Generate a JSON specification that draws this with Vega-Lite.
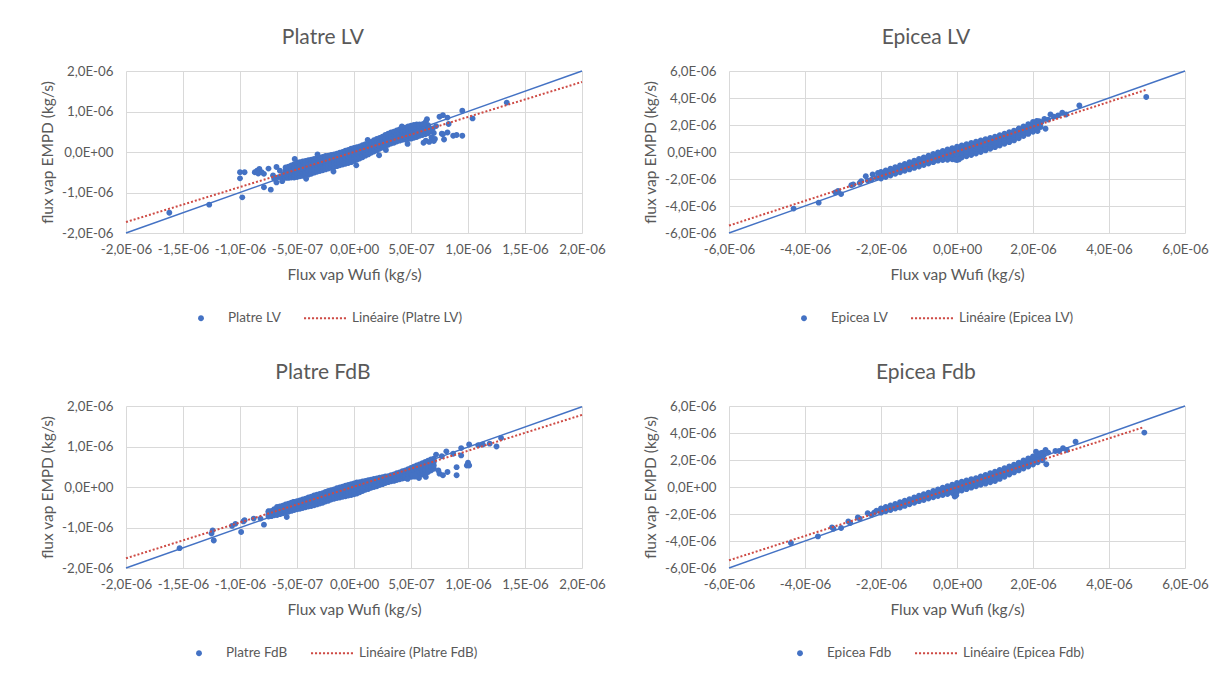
{
  "$schema": "https://vega.github.io/schema/vega-lite/v6.json",
  "background": "white",
  "padding": {"left": 40, "top": 27, "right": 5, "bottom": 5},
  "bounds": "flush",
  "columns": 2,
  "spacing": {"row": 173, "column": 147},
  "resolve": {"scale": {"color": "independent", "shape": "independent"}},
  "datasets": {
    "platreLV": [
      {"wufi":-1.62e-6,"empd":-1.5e-6},{"wufi":-1.27e-6,"empd":-1.3e-6},{"wufi":-1e-6,"empd":-0.65e-6},{"wufi":-1e-6,"empd":-0.5e-6},
      {"wufi":-0.96e-6,"empd":-0.5e-6},{"wufi":-0.98e-6,"empd":-1.12e-6},{"wufi":-0.87e-6,"empd":-0.5e-6},{"wufi":-0.85e-6,"empd":-0.46e-6},
      {"wufi":-0.83e-6,"empd":-0.42e-6},{"wufi":-0.81e-6,"empd":-0.5e-6},{"wufi":-0.79e-6,"empd":-0.54e-6},{"wufi":-0.84e-6,"empd":-0.53e-6},
      {"wufi":-0.75e-6,"empd":-0.41e-6},{"wufi":-0.71e-6,"empd":-0.58e-6},{"wufi":-0.79e-6,"empd":-0.87e-6},{"wufi":-0.73e-6,"empd":-0.93e-6},
      {"wufi":-0.68e-6,"empd":-0.37e-6},{"wufi":-0.65e-6,"empd":-0.46e-6},{"wufi":-0.68e-6,"empd":-0.75e-6},{"wufi":-0.63e-6,"empd":-0.66e-6},
      {"wufi":-0.66e-6,"empd":-0.62e-6},{"wufi":-0.7e-6,"empd":-0.66e-6},{"wufi":-0.62e-6,"empd":-0.55e-6},{"wufi":-0.63e-6,"empd":-0.72e-6},
      {"wufi":-0.6e-6,"empd":-0.64e-6},{"wufi":-0.6e-6,"empd":-0.58e-6},{"wufi":-0.6e-6,"empd":-0.51e-6},{"wufi":-0.6e-6,"empd":-0.45e-6},{"wufi":-0.6e-6,"empd":-0.38e-6},
      {"wufi":-0.575e-6,"empd":-0.64e-6},{"wufi":-0.575e-6,"empd":-0.57e-6},{"wufi":-0.575e-6,"empd":-0.5e-6},{"wufi":-0.575e-6,"empd":-0.43e-6},{"wufi":-0.575e-6,"empd":-0.36e-6},
      {"wufi":-0.55e-6,"empd":-0.63e-6},{"wufi":-0.55e-6,"empd":-0.56e-6},{"wufi":-0.55e-6,"empd":-0.48e-6},{"wufi":-0.55e-6,"empd":-0.41e-6},{"wufi":-0.55e-6,"empd":-0.33e-6},
      {"wufi":-0.525e-6,"empd":-0.63e-6},{"wufi":-0.525e-6,"empd":-0.55e-6},{"wufi":-0.525e-6,"empd":-0.46e-6},{"wufi":-0.525e-6,"empd":-0.38e-6},{"wufi":-0.525e-6,"empd":-0.3e-6},
      {"wufi":-0.5e-6,"empd":-0.62e-6},{"wufi":-0.5e-6,"empd":-0.53e-6},{"wufi":-0.5e-6,"empd":-0.44e-6},{"wufi":-0.5e-6,"empd":-0.35e-6},{"wufi":-0.5e-6,"empd":-0.26e-6},
      {"wufi":-0.475e-6,"empd":-0.6e-6},{"wufi":-0.475e-6,"empd":-0.52e-6},{"wufi":-0.475e-6,"empd":-0.43e-6},{"wufi":-0.475e-6,"empd":-0.34e-6},{"wufi":-0.475e-6,"empd":-0.25e-6},
      {"wufi":-0.45e-6,"empd":-0.59e-6},{"wufi":-0.45e-6,"empd":-0.5e-6},{"wufi":-0.45e-6,"empd":-0.41e-6},{"wufi":-0.45e-6,"empd":-0.32e-6},{"wufi":-0.45e-6,"empd":-0.23e-6},
      {"wufi":-0.425e-6,"empd":-0.58e-6},{"wufi":-0.425e-6,"empd":-0.49e-6},{"wufi":-0.425e-6,"empd":-0.4e-6},{"wufi":-0.425e-6,"empd":-0.31e-6},{"wufi":-0.425e-6,"empd":-0.22e-6},
      {"wufi":-0.4e-6,"empd":-0.56e-6},{"wufi":-0.4e-6,"empd":-0.47e-6},{"wufi":-0.4e-6,"empd":-0.38e-6},{"wufi":-0.4e-6,"empd":-0.29e-6},{"wufi":-0.4e-6,"empd":-0.2e-6},
      {"wufi":-0.375e-6,"empd":-0.54e-6},{"wufi":-0.375e-6,"empd":-0.45e-6},{"wufi":-0.375e-6,"empd":-0.36e-6},{"wufi":-0.375e-6,"empd":-0.28e-6},{"wufi":-0.375e-6,"empd":-0.19e-6},
      {"wufi":-0.35e-6,"empd":-0.51e-6},{"wufi":-0.35e-6,"empd":-0.43e-6},{"wufi":-0.35e-6,"empd":-0.34e-6},{"wufi":-0.35e-6,"empd":-0.26e-6},{"wufi":-0.35e-6,"empd":-0.17e-6},
      {"wufi":-0.325e-6,"empd":-0.49e-6},{"wufi":-0.325e-6,"empd":-0.41e-6},{"wufi":-0.325e-6,"empd":-0.33e-6},{"wufi":-0.325e-6,"empd":-0.24e-6},{"wufi":-0.325e-6,"empd":-0.16e-6},
      {"wufi":-0.3e-6,"empd":-0.47e-6},{"wufi":-0.3e-6,"empd":-0.39e-6},{"wufi":-0.3e-6,"empd":-0.31e-6},{"wufi":-0.3e-6,"empd":-0.22e-6},{"wufi":-0.3e-6,"empd":-0.14e-6},
      {"wufi":-0.275e-6,"empd":-0.45e-6},{"wufi":-0.275e-6,"empd":-0.37e-6},{"wufi":-0.275e-6,"empd":-0.29e-6},{"wufi":-0.275e-6,"empd":-0.2e-6},{"wufi":-0.275e-6,"empd":-0.12e-6},
      {"wufi":-0.25e-6,"empd":-0.43e-6},{"wufi":-0.25e-6,"empd":-0.35e-6},{"wufi":-0.25e-6,"empd":-0.27e-6},{"wufi":-0.25e-6,"empd":-0.18e-6},{"wufi":-0.25e-6,"empd":-0.1e-6},
      {"wufi":-0.225e-6,"empd":-0.41e-6},{"wufi":-0.225e-6,"empd":-0.33e-6},{"wufi":-0.225e-6,"empd":-0.25e-6},{"wufi":-0.225e-6,"empd":-0.17e-6},{"wufi":-0.225e-6,"empd":-0.09e-6},
      {"wufi":-0.2e-6,"empd":-0.39e-6},{"wufi":-0.2e-6,"empd":-0.31e-6},{"wufi":-0.2e-6,"empd":-0.23e-6},{"wufi":-0.2e-6,"empd":-0.15e-6},{"wufi":-0.2e-6,"empd":-0.07e-6},
      {"wufi":-0.175e-6,"empd":-0.37e-6},{"wufi":-0.175e-6,"empd":-0.29e-6},{"wufi":-0.175e-6,"empd":-0.22e-6},{"wufi":-0.175e-6,"empd":-0.14e-6},{"wufi":-0.175e-6,"empd":-0.06e-6},
      {"wufi":-0.15e-6,"empd":-0.35e-6},{"wufi":-0.15e-6,"empd":-0.27e-6},{"wufi":-0.15e-6,"empd":-0.2e-6},{"wufi":-0.15e-6,"empd":-0.12e-6},{"wufi":-0.15e-6,"empd":-0.04e-6},
      {"wufi":-0.125e-6,"empd":-0.33e-6},{"wufi":-0.125e-6,"empd":-0.25e-6},{"wufi":-0.125e-6,"empd":-0.18e-6},{"wufi":-0.125e-6,"empd":-0.1e-6},{"wufi":-0.125e-6,"empd":-0.02e-6},
      {"wufi":-0.1e-6,"empd":-0.31e-6},{"wufi":-0.1e-6,"empd":-0.23e-6},{"wufi":-0.1e-6,"empd":-0.16e-6},{"wufi":-0.1e-6,"empd":-0.08e-6},{"wufi":-0.1e-6,"empd":0},
      {"wufi":-0.075e-6,"empd":-0.29e-6},{"wufi":-0.075e-6,"empd":-0.21e-6},{"wufi":-0.075e-6,"empd":-0.14e-6},{"wufi":-0.075e-6,"empd":-0.06e-6},{"wufi":-0.075e-6,"empd":0.03e-6},
      {"wufi":-0.05e-6,"empd":-0.27e-6},{"wufi":-0.05e-6,"empd":-0.19e-6},{"wufi":-0.05e-6,"empd":-0.11e-6},{"wufi":-0.05e-6,"empd":-0.03e-6},{"wufi":-0.05e-6,"empd":0.05e-6},
      {"wufi":-0.025e-6,"empd":-0.25e-6},{"wufi":-0.025e-6,"empd":-0.17e-6},{"wufi":-0.025e-6,"empd":-0.09e-6},{"wufi":-0.025e-6,"empd":-0.01e-6},{"wufi":-0.025e-6,"empd":0.08e-6},
      {"wufi":0,"empd":-0.22e-6},{"wufi":0,"empd":-0.14e-6},{"wufi":0,"empd":-0.06e-6},{"wufi":0,"empd":0.02e-6},{"wufi":0,"empd":0.1e-6},
      {"wufi":0.025e-6,"empd":-0.19e-6},{"wufi":0.025e-6,"empd":-0.12e-6},{"wufi":0.025e-6,"empd":-0.04e-6},{"wufi":0.025e-6,"empd":0.05e-6},{"wufi":0.025e-6,"empd":0.12e-6},
      {"wufi":0.05e-6,"empd":-0.16e-6},{"wufi":0.05e-6,"empd":-0.09e-6},{"wufi":0.05e-6,"empd":-0.01e-6},{"wufi":0.05e-6,"empd":0.07e-6},{"wufi":0.05e-6,"empd":0.14e-6},
      {"wufi":0.075e-6,"empd":-0.13e-6},{"wufi":0.075e-6,"empd":-0.06e-6},{"wufi":0.075e-6,"empd":0.02e-6},{"wufi":0.075e-6,"empd":0.1e-6},{"wufi":0.075e-6,"empd":0.17e-6},
      {"wufi":0.1e-6,"empd":-0.09e-6},{"wufi":0.1e-6,"empd":-0.02e-6},{"wufi":0.1e-6,"empd":0.05e-6},{"wufi":0.1e-6,"empd":0.12e-6},{"wufi":0.1e-6,"empd":0.19e-6},
      {"wufi":0.125e-6,"empd":-0.06e-6},{"wufi":0.125e-6,"empd":0.02e-6},{"wufi":0.125e-6,"empd":0.09e-6},{"wufi":0.125e-6,"empd":0.15e-6},{"wufi":0.125e-6,"empd":0.22e-6},
      {"wufi":0.15e-6,"empd":-0.02e-6},{"wufi":0.15e-6,"empd":0.05e-6},{"wufi":0.15e-6,"empd":0.12e-6},{"wufi":0.15e-6,"empd":0.18e-6},{"wufi":0.15e-6,"empd":0.25e-6},
      {"wufi":0.175e-6,"empd":0.01e-6},{"wufi":0.175e-6,"empd":0.08e-6},{"wufi":0.175e-6,"empd":0.15e-6},{"wufi":0.175e-6,"empd":0.22e-6},{"wufi":0.175e-6,"empd":0.29e-6},
      {"wufi":0.2e-6,"empd":0.04e-6},{"wufi":0.2e-6,"empd":0.11e-6},{"wufi":0.2e-6,"empd":0.18e-6},{"wufi":0.2e-6,"empd":0.25e-6},{"wufi":0.2e-6,"empd":0.32e-6},
      {"wufi":0.225e-6,"empd":0.08e-6},{"wufi":0.225e-6,"empd":0.15e-6},{"wufi":0.225e-6,"empd":0.22e-6},{"wufi":0.225e-6,"empd":0.28e-6},{"wufi":0.225e-6,"empd":0.35e-6},
      {"wufi":0.25e-6,"empd":0.11e-6},{"wufi":0.25e-6,"empd":0.18e-6},{"wufi":0.25e-6,"empd":0.25e-6},{"wufi":0.25e-6,"empd":0.31e-6},{"wufi":0.25e-6,"empd":0.38e-6},
      {"wufi":0.275e-6,"empd":0.15e-6},{"wufi":0.275e-6,"empd":0.22e-6},{"wufi":0.275e-6,"empd":0.29e-6},{"wufi":0.275e-6,"empd":0.35e-6},{"wufi":0.275e-6,"empd":0.42e-6},
      {"wufi":0.3e-6,"empd":0.18e-6},{"wufi":0.3e-6,"empd":0.25e-6},{"wufi":0.3e-6,"empd":0.32e-6},{"wufi":0.3e-6,"empd":0.38e-6},{"wufi":0.3e-6,"empd":0.45e-6},
      {"wufi":0.325e-6,"empd":0.21e-6},{"wufi":0.325e-6,"empd":0.28e-6},{"wufi":0.325e-6,"empd":0.35e-6},{"wufi":0.325e-6,"empd":0.41e-6},{"wufi":0.325e-6,"empd":0.48e-6},
      {"wufi":0.35e-6,"empd":0.23e-6},{"wufi":0.35e-6,"empd":0.3e-6},{"wufi":0.35e-6,"empd":0.37e-6},{"wufi":0.35e-6,"empd":0.43e-6},{"wufi":0.35e-6,"empd":0.5e-6},
      {"wufi":0.375e-6,"empd":0.26e-6},{"wufi":0.375e-6,"empd":0.33e-6},{"wufi":0.375e-6,"empd":0.4e-6},{"wufi":0.375e-6,"empd":0.46e-6},{"wufi":0.375e-6,"empd":0.53e-6},
      {"wufi":0.4e-6,"empd":0.28e-6},{"wufi":0.4e-6,"empd":0.35e-6},{"wufi":0.4e-6,"empd":0.42e-6},{"wufi":0.4e-6,"empd":0.49e-6},{"wufi":0.4e-6,"empd":0.56e-6},
      {"wufi":0.425e-6,"empd":0.3e-6},{"wufi":0.425e-6,"empd":0.37e-6},{"wufi":0.425e-6,"empd":0.44e-6},{"wufi":0.425e-6,"empd":0.51e-6},{"wufi":0.425e-6,"empd":0.58e-6},
      {"wufi":0.45e-6,"empd":0.31e-6},{"wufi":0.45e-6,"empd":0.38e-6},{"wufi":0.45e-6,"empd":0.46e-6},{"wufi":0.45e-6,"empd":0.53e-6},{"wufi":0.45e-6,"empd":0.6e-6},
      {"wufi":0.475e-6,"empd":0.32e-6},{"wufi":0.475e-6,"empd":0.4e-6},{"wufi":0.475e-6,"empd":0.48e-6},{"wufi":0.475e-6,"empd":0.55e-6},{"wufi":0.475e-6,"empd":0.63e-6},
      {"wufi":0.5e-6,"empd":0.33e-6},{"wufi":0.5e-6,"empd":0.41e-6},{"wufi":0.5e-6,"empd":0.49e-6},{"wufi":0.5e-6,"empd":0.57e-6},{"wufi":0.5e-6,"empd":0.65e-6},
      {"wufi":0.525e-6,"empd":0.35e-6},{"wufi":0.525e-6,"empd":0.43e-6},{"wufi":0.525e-6,"empd":0.51e-6},{"wufi":0.525e-6,"empd":0.59e-6},{"wufi":0.525e-6,"empd":0.67e-6},
      {"wufi":0.55e-6,"empd":0.37e-6},{"wufi":0.55e-6,"empd":0.45e-6},{"wufi":0.55e-6,"empd":0.53e-6},{"wufi":0.55e-6,"empd":0.6e-6},{"wufi":0.55e-6,"empd":0.68e-6},
      {"wufi":0.575e-6,"empd":0.4e-6},{"wufi":0.575e-6,"empd":0.47e-6},{"wufi":0.575e-6,"empd":0.54e-6},{"wufi":0.575e-6,"empd":0.61e-6},{"wufi":0.575e-6,"empd":0.68e-6},
      {"wufi":0.6e-6,"empd":0.42e-6},{"wufi":0.6e-6,"empd":0.49e-6},{"wufi":0.6e-6,"empd":0.55e-6},{"wufi":0.6e-6,"empd":0.62e-6},{"wufi":0.6e-6,"empd":0.68e-6},
      {"wufi":0.625e-6,"empd":0.44e-6},{"wufi":0.625e-6,"empd":0.5e-6},{"wufi":0.625e-6,"empd":0.56e-6},{"wufi":0.625e-6,"empd":0.62e-6},{"wufi":0.625e-6,"empd":0.67e-6},
      {"wufi":0.65e-6,"empd":0.46e-6},{"wufi":0.65e-6,"empd":0.51e-6},{"wufi":0.65e-6,"empd":0.56e-6},{"wufi":0.65e-6,"empd":0.61e-6},{"wufi":0.65e-6,"empd":0.66e-6},
      {"wufi":-0.42e-6,"empd":-0.66e-6},{"wufi":-0.18e-6,"empd":-0.48e-6},{"wufi":0.02e-6,"empd":-0.33e-6},{"wufi":0.28e-6,"empd":0.05e-6},{"wufi":-0.32e-6,"empd":-0.06e-6},
      {"wufi":0.12e-6,"empd":0.3e-6},{"wufi":0.42e-6,"empd":0.63e-6},{"wufi":-0.52e-6,"empd":-0.17e-6},{"wufi":0.22e-6,"empd":-0.08e-6},{"wufi":0.47e-6,"empd":0.2e-6},
      {"wufi":0.63e-6,"empd":0.75e-6},{"wufi":0.64e-6,"empd":0.81e-6},{"wufi":0.61e-6,"empd":0.69e-6},{"wufi":0.68e-6,"empd":0.36e-6},{"wufi":0.71e-6,"empd":0.32e-6},
      {"wufi":0.63e-6,"empd":0.28e-6},{"wufi":0.66e-6,"empd":0.25e-6},{"wufi":0.61e-6,"empd":0.23e-6},{"wufi":0.7e-6,"empd":0.27e-6},{"wufi":0.75e-6,"empd":0.87e-6},
      {"wufi":0.78e-6,"empd":0.91e-6},{"wufi":0.82e-6,"empd":0.85e-6},{"wufi":0.83e-6,"empd":0.69e-6},{"wufi":0.82e-6,"empd":0.48e-6},{"wufi":0.78e-6,"empd":0.44e-6},
      {"wufi":0.87e-6,"empd":0.4e-6},{"wufi":0.9e-6,"empd":0.42e-6},{"wufi":0.95e-6,"empd":0.4e-6},{"wufi":0.77e-6,"empd":0.45e-6},{"wufi":0.79e-6,"empd":0.31e-6},
      {"wufi":0.95e-6,"empd":1.02e-6},{"wufi":1.04e-6,"empd":0.83e-6},{"wufi":1.34e-6,"empd":1.22e-6},{"wufi":0.72e-6,"empd":0.64e-6},{"wufi":0.69e-6,"empd":0.58e-6},
      {"wufi":0.7e-6,"empd":0.47e-6},{"wufi":0.67e-6,"empd":0.52e-6}
    ],
    "epiceaLV": [
      {"wufi":-4.3e-6,"empd":-4.19e-6},{"wufi":-3.64e-6,"empd":-3.75e-6},{"wufi":-3.2e-6,"empd":-3e-6},{"wufi":-3.13e-6,"empd":-2.88e-6},
      {"wufi":-3.05e-6,"empd":-3.12e-6},{"wufi":-2.78e-6,"empd":-2.46e-6},{"wufi":-2.73e-6,"empd":-2.41e-6},{"wufi":-2.56e-6,"empd":-2.29e-6},
      {"wufi":-2.52e-6,"empd":-2.16e-6},{"wufi":-2.4e-6,"empd":-1.79e-6},{"wufi":-2.22e-6,"empd":-1.67e-6},{"wufi":-2.12e-6,"empd":-1.92e-6},
      {"wufi":-2.25e-6,"empd":-2.05e-6},{"wufi":-2.35e-6,"empd":-2.12e-6},{"wufi":-2.08e-6,"empd":-1.55e-6},
      {"wufi":-2e-6,"empd":-1.97e-6},{"wufi":-2e-6,"empd":-1.85e-6},{"wufi":-2e-6,"empd":-1.77e-6},{"wufi":-2e-6,"empd":-1.68e-6},{"wufi":-2e-6,"empd":-1.6e-6},{"wufi":-2e-6,"empd":-1.48e-6},
      {"wufi":-1.875e-6,"empd":-1.85e-6},{"wufi":-1.875e-6,"empd":-1.73e-6},{"wufi":-1.875e-6,"empd":-1.65e-6},{"wufi":-1.875e-6,"empd":-1.56e-6},{"wufi":-1.875e-6,"empd":-1.48e-6},{"wufi":-1.875e-6,"empd":-1.36e-6},
      {"wufi":-1.75e-6,"empd":-1.74e-6},{"wufi":-1.75e-6,"empd":-1.62e-6},{"wufi":-1.75e-6,"empd":-1.53e-6},{"wufi":-1.75e-6,"empd":-1.45e-6},{"wufi":-1.75e-6,"empd":-1.36e-6},{"wufi":-1.75e-6,"empd":-1.24e-6},
      {"wufi":-1.625e-6,"empd":-1.62e-6},{"wufi":-1.625e-6,"empd":-1.5e-6},{"wufi":-1.625e-6,"empd":-1.41e-6},{"wufi":-1.625e-6,"empd":-1.33e-6},{"wufi":-1.625e-6,"empd":-1.24e-6},{"wufi":-1.625e-6,"empd":-1.12e-6},
      {"wufi":-1.5e-6,"empd":-1.5e-6},{"wufi":-1.5e-6,"empd":-1.38e-6},{"wufi":-1.5e-6,"empd":-1.29e-6},{"wufi":-1.5e-6,"empd":-1.21e-6},{"wufi":-1.5e-6,"empd":-1.12e-6},{"wufi":-1.5e-6,"empd":-1e-6},
      {"wufi":-1.375e-6,"empd":-1.39e-6},{"wufi":-1.375e-6,"empd":-1.27e-6},{"wufi":-1.375e-6,"empd":-1.18e-6},{"wufi":-1.375e-6,"empd":-1.09e-6},{"wufi":-1.375e-6,"empd":-1e-6},{"wufi":-1.375e-6,"empd":-0.88e-6},
      {"wufi":-1.25e-6,"empd":-1.29e-6},{"wufi":-1.25e-6,"empd":-1.17e-6},{"wufi":-1.25e-6,"empd":-1.07e-6},{"wufi":-1.25e-6,"empd":-0.98e-6},{"wufi":-1.25e-6,"empd":-0.88e-6},{"wufi":-1.25e-6,"empd":-0.76e-6},
      {"wufi":-1.125e-6,"empd":-1.18e-6},{"wufi":-1.125e-6,"empd":-1.06e-6},{"wufi":-1.125e-6,"empd":-0.96e-6},{"wufi":-1.125e-6,"empd":-0.86e-6},{"wufi":-1.125e-6,"empd":-0.76e-6},{"wufi":-1.125e-6,"empd":-0.64e-6},
      {"wufi":-1e-6,"empd":-1.07e-6},{"wufi":-1e-6,"empd":-0.95e-6},{"wufi":-1e-6,"empd":-0.85e-6},{"wufi":-1e-6,"empd":-0.74e-6},{"wufi":-1e-6,"empd":-0.64e-6},{"wufi":-1e-6,"empd":-0.52e-6},
      {"wufi":-0.875e-6,"empd":-0.96e-6},{"wufi":-0.875e-6,"empd":-0.84e-6},{"wufi":-0.875e-6,"empd":-0.73e-6},{"wufi":-0.875e-6,"empd":-0.63e-6},{"wufi":-0.875e-6,"empd":-0.52e-6},{"wufi":-0.875e-6,"empd":-0.4e-6},
      {"wufi":-0.75e-6,"empd":-0.86e-6},{"wufi":-0.75e-6,"empd":-0.74e-6},{"wufi":-0.75e-6,"empd":-0.63e-6},{"wufi":-0.75e-6,"empd":-0.51e-6},{"wufi":-0.75e-6,"empd":-0.4e-6},{"wufi":-0.75e-6,"empd":-0.28e-6},
      {"wufi":-0.625e-6,"empd":-0.75e-6},{"wufi":-0.625e-6,"empd":-0.63e-6},{"wufi":-0.625e-6,"empd":-0.51e-6},{"wufi":-0.625e-6,"empd":-0.39e-6},{"wufi":-0.625e-6,"empd":-0.27e-6},{"wufi":-0.625e-6,"empd":-0.15e-6},
      {"wufi":-0.5e-6,"empd":-0.64e-6},{"wufi":-0.5e-6,"empd":-0.52e-6},{"wufi":-0.5e-6,"empd":-0.4e-6},{"wufi":-0.5e-6,"empd":-0.27e-6},{"wufi":-0.5e-6,"empd":-0.15e-6},{"wufi":-0.5e-6,"empd":-0.03e-6},
      {"wufi":-0.375e-6,"empd":-0.6e-6},{"wufi":-0.375e-6,"empd":-0.48e-6},{"wufi":-0.375e-6,"empd":-0.33e-6},{"wufi":-0.375e-6,"empd":-0.19e-6},{"wufi":-0.375e-6,"empd":-0.04e-6},{"wufi":-0.375e-6,"empd":0.08e-6},
      {"wufi":-0.25e-6,"empd":-0.57e-6},{"wufi":-0.25e-6,"empd":-0.45e-6},{"wufi":-0.25e-6,"empd":-0.28e-6},{"wufi":-0.25e-6,"empd":-0.11e-6},{"wufi":-0.25e-6,"empd":0.07e-6},{"wufi":-0.25e-6,"empd":0.19e-6},
      {"wufi":-0.125e-6,"empd":-0.54e-6},{"wufi":-0.125e-6,"empd":-0.42e-6},{"wufi":-0.125e-6,"empd":-0.22e-6},{"wufi":-0.125e-6,"empd":-0.03e-6},{"wufi":-0.125e-6,"empd":0.17e-6},{"wufi":-0.125e-6,"empd":0.29e-6},
      {"wufi":0,"empd":-0.5e-6},{"wufi":0,"empd":-0.38e-6},{"wufi":0,"empd":-0.16e-6},{"wufi":0,"empd":0.06e-6},{"wufi":0,"empd":0.28e-6},{"wufi":0,"empd":0.4e-6},
      {"wufi":0.125e-6,"empd":-0.41e-6},{"wufi":0.125e-6,"empd":-0.29e-6},{"wufi":0.125e-6,"empd":-0.07e-6},{"wufi":0.125e-6,"empd":0.15e-6},{"wufi":0.125e-6,"empd":0.37e-6},{"wufi":0.125e-6,"empd":0.49e-6},
      {"wufi":0.25e-6,"empd":-0.31e-6},{"wufi":0.25e-6,"empd":-0.19e-6},{"wufi":0.25e-6,"empd":0.03e-6},{"wufi":0.25e-6,"empd":0.24e-6},{"wufi":0.25e-6,"empd":0.46e-6},{"wufi":0.25e-6,"empd":0.58e-6},
      {"wufi":0.375e-6,"empd":-0.22e-6},{"wufi":0.375e-6,"empd":-0.1e-6},{"wufi":0.375e-6,"empd":0.12e-6},{"wufi":0.375e-6,"empd":0.34e-6},{"wufi":0.375e-6,"empd":0.56e-6},{"wufi":0.375e-6,"empd":0.68e-6},
      {"wufi":0.5e-6,"empd":-0.12e-6},{"wufi":0.5e-6,"empd":0},{"wufi":0.5e-6,"empd":0.22e-6},{"wufi":0.5e-6,"empd":0.43e-6},{"wufi":0.5e-6,"empd":0.65e-6},{"wufi":0.5e-6,"empd":0.77e-6},
      {"wufi":0.625e-6,"empd":0},{"wufi":0.625e-6,"empd":0.12e-6},{"wufi":0.625e-6,"empd":0.33e-6},{"wufi":0.625e-6,"empd":0.53e-6},{"wufi":0.625e-6,"empd":0.74e-6},{"wufi":0.625e-6,"empd":0.86e-6},
      {"wufi":0.75e-6,"empd":0.12e-6},{"wufi":0.75e-6,"empd":0.24e-6},{"wufi":0.75e-6,"empd":0.44e-6},{"wufi":0.75e-6,"empd":0.63e-6},{"wufi":0.75e-6,"empd":0.83e-6},{"wufi":0.75e-6,"empd":0.95e-6},
      {"wufi":0.875e-6,"empd":0.24e-6},{"wufi":0.875e-6,"empd":0.36e-6},{"wufi":0.875e-6,"empd":0.55e-6},{"wufi":0.875e-6,"empd":0.74e-6},{"wufi":0.875e-6,"empd":0.93e-6},{"wufi":0.875e-6,"empd":1.05e-6},
      {"wufi":1e-6,"empd":0.36e-6},{"wufi":1e-6,"empd":0.48e-6},{"wufi":1e-6,"empd":0.66e-6},{"wufi":1e-6,"empd":0.84e-6},{"wufi":1e-6,"empd":1.02e-6},{"wufi":1e-6,"empd":1.14e-6},
      {"wufi":1.125e-6,"empd":0.48e-6},{"wufi":1.125e-6,"empd":0.6e-6},{"wufi":1.125e-6,"empd":0.78e-6},{"wufi":1.125e-6,"empd":0.95e-6},{"wufi":1.125e-6,"empd":1.13e-6},{"wufi":1.125e-6,"empd":1.25e-6},
      {"wufi":1.25e-6,"empd":0.61e-6},{"wufi":1.25e-6,"empd":0.73e-6},{"wufi":1.25e-6,"empd":0.9e-6},{"wufi":1.25e-6,"empd":1.07e-6},{"wufi":1.25e-6,"empd":1.24e-6},{"wufi":1.25e-6,"empd":1.36e-6},
      {"wufi":1.375e-6,"empd":0.73e-6},{"wufi":1.375e-6,"empd":0.85e-6},{"wufi":1.375e-6,"empd":1.02e-6},{"wufi":1.375e-6,"empd":1.18e-6},{"wufi":1.375e-6,"empd":1.35e-6},{"wufi":1.375e-6,"empd":1.47e-6},
      {"wufi":1.5e-6,"empd":0.86e-6},{"wufi":1.5e-6,"empd":0.98e-6},{"wufi":1.5e-6,"empd":1.14e-6},{"wufi":1.5e-6,"empd":1.3e-6},{"wufi":1.5e-6,"empd":1.46e-6},{"wufi":1.5e-6,"empd":1.58e-6},
      {"wufi":1.625e-6,"empd":1.02e-6},{"wufi":1.625e-6,"empd":1.14e-6},{"wufi":1.625e-6,"empd":1.3e-6},{"wufi":1.625e-6,"empd":1.46e-6},{"wufi":1.625e-6,"empd":1.62e-6},{"wufi":1.625e-6,"empd":1.74e-6},
      {"wufi":1.75e-6,"empd":1.18e-6},{"wufi":1.75e-6,"empd":1.3e-6},{"wufi":1.75e-6,"empd":1.46e-6},{"wufi":1.75e-6,"empd":1.62e-6},{"wufi":1.75e-6,"empd":1.78e-6},{"wufi":1.75e-6,"empd":1.9e-6},
      {"wufi":1.875e-6,"empd":1.34e-6},{"wufi":1.875e-6,"empd":1.46e-6},{"wufi":1.875e-6,"empd":1.62e-6},{"wufi":1.875e-6,"empd":1.78e-6},{"wufi":1.875e-6,"empd":1.94e-6},{"wufi":1.875e-6,"empd":2.06e-6},
      {"wufi":2e-6,"empd":1.5e-6},{"wufi":2e-6,"empd":1.62e-6},{"wufi":2e-6,"empd":1.78e-6},{"wufi":2e-6,"empd":1.94e-6},{"wufi":2e-6,"empd":2.1e-6},{"wufi":2e-6,"empd":2.22e-6},
      {"wufi":0,"empd":-0.6e-6},{"wufi":0.05e-6,"empd":-0.55e-6},{"wufi":-0.05e-6,"empd":-0.56e-6},
      {"wufi":2.1e-6,"empd":2.3e-6},{"wufi":2.16e-6,"empd":2.29e-6},{"wufi":2.22e-6,"empd":2.2e-6},{"wufi":2.12e-6,"empd":1.55e-6},
      {"wufi":2.2e-6,"empd":1.85e-6},{"wufi":2.33e-6,"empd":1.72e-6},{"wufi":2.3e-6,"empd":2.45e-6},{"wufi":2.4e-6,"empd":2.4e-6},
      {"wufi":2.46e-6,"empd":2.78e-6},{"wufi":2.55e-6,"empd":2.62e-6},{"wufi":2.66e-6,"empd":2.71e-6},{"wufi":2.77e-6,"empd":2.91e-6},
      {"wufi":2.87e-6,"empd":2.78e-6},{"wufi":3.22e-6,"empd":3.45e-6},{"wufi":4.98e-6,"empd":4.07e-6},{"wufi":2.05e-6,"empd":1.95e-6},
      {"wufi":2.18e-6,"empd":2.05e-6},{"wufi":2.1e-6,"empd":1.75e-6}
    ],
    "platreFdB": [
      {"wufi":-1.53e-6,"empd":-1.51e-6},{"wufi":-1.24e-6,"empd":-1.07e-6},{"wufi":-1.25e-6,"empd":-1.15e-6},{"wufi":-1.23e-6,"empd":-1.32e-6},
      {"wufi":-1.07e-6,"empd":-0.96e-6},{"wufi":-1.04e-6,"empd":-0.91e-6},{"wufi":-0.99e-6,"empd":-1.11e-6},{"wufi":-0.97e-6,"empd":-0.85e-6},
      {"wufi":-0.96e-6,"empd":-0.82e-6},{"wufi":-0.88e-6,"empd":-0.78e-6},{"wufi":-0.82e-6,"empd":-0.78e-6},{"wufi":-0.79e-6,"empd":-0.93e-6},
      {"wufi":-0.75e-6,"empd":-0.6e-6},{"wufi":-0.59e-6,"empd":-0.74e-6},{"wufi":-0.53e-6,"empd":-0.37e-6},
      {"wufi":-0.75e-6,"empd":-0.73e-6},{"wufi":-0.75e-6,"empd":-0.68e-6},{"wufi":-0.75e-6,"empd":-0.62e-6},
      {"wufi":-0.725e-6,"empd":-0.72e-6},{"wufi":-0.725e-6,"empd":-0.66e-6},{"wufi":-0.725e-6,"empd":-0.59e-6},
      {"wufi":-0.7e-6,"empd":-0.7e-6},{"wufi":-0.7e-6,"empd":-0.63e-6},{"wufi":-0.7e-6,"empd":-0.55e-6},
      {"wufi":-0.675e-6,"empd":-0.69e-6},{"wufi":-0.675e-6,"empd":-0.62e-6},{"wufi":-0.675e-6,"empd":-0.55e-6},{"wufi":-0.675e-6,"empd":-0.49e-6},
      {"wufi":-0.65e-6,"empd":-0.67e-6},{"wufi":-0.65e-6,"empd":-0.61e-6},{"wufi":-0.65e-6,"empd":-0.54e-6},{"wufi":-0.65e-6,"empd":-0.48e-6},
      {"wufi":-0.625e-6,"empd":-0.65e-6},{"wufi":-0.625e-6,"empd":-0.59e-6},{"wufi":-0.625e-6,"empd":-0.52e-6},{"wufi":-0.625e-6,"empd":-0.46e-6},
      {"wufi":-0.6e-6,"empd":-0.63e-6},{"wufi":-0.6e-6,"empd":-0.56e-6},{"wufi":-0.6e-6,"empd":-0.5e-6},{"wufi":-0.6e-6,"empd":-0.43e-6},
      {"wufi":-0.575e-6,"empd":-0.61e-6},{"wufi":-0.575e-6,"empd":-0.54e-6},{"wufi":-0.575e-6,"empd":-0.48e-6},{"wufi":-0.575e-6,"empd":-0.41e-6},
      {"wufi":-0.55e-6,"empd":-0.59e-6},{"wufi":-0.55e-6,"empd":-0.52e-6},{"wufi":-0.55e-6,"empd":-0.46e-6},{"wufi":-0.55e-6,"empd":-0.39e-6},
      {"wufi":-0.525e-6,"empd":-0.57e-6},{"wufi":-0.525e-6,"empd":-0.5e-6},{"wufi":-0.525e-6,"empd":-0.44e-6},{"wufi":-0.525e-6,"empd":-0.37e-6},
      {"wufi":-0.5e-6,"empd":-0.55e-6},{"wufi":-0.5e-6,"empd":-0.48e-6},{"wufi":-0.5e-6,"empd":-0.42e-6},{"wufi":-0.5e-6,"empd":-0.35e-6},
      {"wufi":-0.475e-6,"empd":-0.54e-6},{"wufi":-0.475e-6,"empd":-0.47e-6},{"wufi":-0.475e-6,"empd":-0.4e-6},{"wufi":-0.475e-6,"empd":-0.33e-6},
      {"wufi":-0.45e-6,"empd":-0.52e-6},{"wufi":-0.45e-6,"empd":-0.45e-6},{"wufi":-0.45e-6,"empd":-0.38e-6},{"wufi":-0.45e-6,"empd":-0.31e-6},
      {"wufi":-0.425e-6,"empd":-0.5e-6},{"wufi":-0.425e-6,"empd":-0.43e-6},{"wufi":-0.425e-6,"empd":-0.36e-6},{"wufi":-0.425e-6,"empd":-0.29e-6},
      {"wufi":-0.4e-6,"empd":-0.48e-6},{"wufi":-0.4e-6,"empd":-0.41e-6},{"wufi":-0.4e-6,"empd":-0.33e-6},{"wufi":-0.4e-6,"empd":-0.26e-6},
      {"wufi":-0.375e-6,"empd":-0.47e-6},{"wufi":-0.375e-6,"empd":-0.39e-6},{"wufi":-0.375e-6,"empd":-0.31e-6},{"wufi":-0.375e-6,"empd":-0.24e-6},
      {"wufi":-0.35e-6,"empd":-0.45e-6},{"wufi":-0.35e-6,"empd":-0.37e-6},{"wufi":-0.35e-6,"empd":-0.29e-6},{"wufi":-0.35e-6,"empd":-0.21e-6},
      {"wufi":-0.325e-6,"empd":-0.43e-6},{"wufi":-0.325e-6,"empd":-0.35e-6},{"wufi":-0.325e-6,"empd":-0.27e-6},{"wufi":-0.325e-6,"empd":-0.19e-6},
      {"wufi":-0.3e-6,"empd":-0.41e-6},{"wufi":-0.3e-6,"empd":-0.33e-6},{"wufi":-0.3e-6,"empd":-0.25e-6},{"wufi":-0.3e-6,"empd":-0.17e-6},
      {"wufi":-0.275e-6,"empd":-0.39e-6},{"wufi":-0.275e-6,"empd":-0.31e-6},{"wufi":-0.275e-6,"empd":-0.23e-6},{"wufi":-0.275e-6,"empd":-0.15e-6},
      {"wufi":-0.25e-6,"empd":-0.36e-6},{"wufi":-0.25e-6,"empd":-0.28e-6},{"wufi":-0.25e-6,"empd":-0.2e-6},{"wufi":-0.25e-6,"empd":-0.12e-6},
      {"wufi":-0.225e-6,"empd":-0.34e-6},{"wufi":-0.225e-6,"empd":-0.26e-6},{"wufi":-0.225e-6,"empd":-0.18e-6},{"wufi":-0.225e-6,"empd":-0.1e-6},
      {"wufi":-0.2e-6,"empd":-0.31e-6},{"wufi":-0.2e-6,"empd":-0.23e-6},{"wufi":-0.2e-6,"empd":-0.16e-6},{"wufi":-0.2e-6,"empd":-0.08e-6},
      {"wufi":-0.175e-6,"empd":-0.29e-6},{"wufi":-0.175e-6,"empd":-0.21e-6},{"wufi":-0.175e-6,"empd":-0.14e-6},{"wufi":-0.175e-6,"empd":-0.06e-6},
      {"wufi":-0.15e-6,"empd":-0.27e-6},{"wufi":-0.15e-6,"empd":-0.19e-6},{"wufi":-0.15e-6,"empd":-0.11e-6},{"wufi":-0.15e-6,"empd":-0.03e-6},
      {"wufi":-0.125e-6,"empd":-0.26e-6},{"wufi":-0.125e-6,"empd":-0.18e-6},{"wufi":-0.125e-6,"empd":-0.09e-6},{"wufi":-0.125e-6,"empd":-0.01e-6},
      {"wufi":-0.1e-6,"empd":-0.24e-6},{"wufi":-0.1e-6,"empd":-0.16e-6},{"wufi":-0.1e-6,"empd":-0.07e-6},{"wufi":-0.1e-6,"empd":0.01e-6},
      {"wufi":-0.075e-6,"empd":-0.23e-6},{"wufi":-0.075e-6,"empd":-0.14e-6},{"wufi":-0.075e-6,"empd":-0.06e-6},{"wufi":-0.075e-6,"empd":0.03e-6},
      {"wufi":-0.05e-6,"empd":-0.21e-6},{"wufi":-0.05e-6,"empd":-0.12e-6},{"wufi":-0.05e-6,"empd":-0.04e-6},{"wufi":-0.05e-6,"empd":0.05e-6},
      {"wufi":-0.025e-6,"empd":-0.2e-6},{"wufi":-0.025e-6,"empd":-0.11e-6},{"wufi":-0.025e-6,"empd":-0.02e-6},{"wufi":-0.025e-6,"empd":0.07e-6},
      {"wufi":0,"empd":-0.18e-6},{"wufi":0,"empd":-0.09e-6},{"wufi":0,"empd":0},{"wufi":0,"empd":0.09e-6},
      {"wufi":0.025e-6,"empd":-0.16e-6},{"wufi":0.025e-6,"empd":-0.07e-6},{"wufi":0.025e-6,"empd":0.02e-6},{"wufi":0.025e-6,"empd":0.11e-6},
      {"wufi":0.05e-6,"empd":-0.13e-6},{"wufi":0.05e-6,"empd":-0.05e-6},{"wufi":0.05e-6,"empd":0.04e-6},{"wufi":0.05e-6,"empd":0.12e-6},
      {"wufi":0.075e-6,"empd":-0.1e-6},{"wufi":0.075e-6,"empd":-0.03e-6},{"wufi":0.075e-6,"empd":0.06e-6},{"wufi":0.075e-6,"empd":0.14e-6},
      {"wufi":0.1e-6,"empd":-0.07e-6},{"wufi":0.1e-6,"empd":0},{"wufi":0.1e-6,"empd":0.08e-6},{"wufi":0.1e-6,"empd":0.15e-6},
      {"wufi":0.125e-6,"empd":-0.05e-6},{"wufi":0.125e-6,"empd":0.03e-6},{"wufi":0.125e-6,"empd":0.1e-6},{"wufi":0.125e-6,"empd":0.17e-6},
      {"wufi":0.15e-6,"empd":-0.02e-6},{"wufi":0.15e-6,"empd":0.05e-6},{"wufi":0.15e-6,"empd":0.11e-6},{"wufi":0.15e-6,"empd":0.18e-6},
      {"wufi":0.175e-6,"empd":0},{"wufi":0.175e-6,"empd":0.07e-6},{"wufi":0.175e-6,"empd":0.13e-6},{"wufi":0.175e-6,"empd":0.2e-6},
      {"wufi":0.2e-6,"empd":0.02e-6},{"wufi":0.2e-6,"empd":0.08e-6},{"wufi":0.2e-6,"empd":0.15e-6},{"wufi":0.2e-6,"empd":0.21e-6},
      {"wufi":0.225e-6,"empd":0.05e-6},{"wufi":0.225e-6,"empd":0.11e-6},{"wufi":0.225e-6,"empd":0.17e-6},{"wufi":0.225e-6,"empd":0.23e-6},
      {"wufi":0.25e-6,"empd":0.07e-6},{"wufi":0.25e-6,"empd":0.13e-6},{"wufi":0.25e-6,"empd":0.18e-6},{"wufi":0.25e-6,"empd":0.24e-6},
      {"wufi":0.275e-6,"empd":0.1e-6},{"wufi":0.275e-6,"empd":0.15e-6},{"wufi":0.275e-6,"empd":0.2e-6},{"wufi":0.275e-6,"empd":0.26e-6},
      {"wufi":0.3e-6,"empd":0.12e-6},{"wufi":0.3e-6,"empd":0.17e-6},{"wufi":0.3e-6,"empd":0.22e-6},{"wufi":0.3e-6,"empd":0.27e-6},
      {"wufi":0.325e-6,"empd":0.14e-6},{"wufi":0.325e-6,"empd":0.19e-6},{"wufi":0.325e-6,"empd":0.24e-6},{"wufi":0.325e-6,"empd":0.29e-6},
      {"wufi":0.35e-6,"empd":0.15e-6},{"wufi":0.35e-6,"empd":0.2e-6},{"wufi":0.35e-6,"empd":0.26e-6},{"wufi":0.35e-6,"empd":0.31e-6},
      {"wufi":0.375e-6,"empd":0.17e-6},{"wufi":0.375e-6,"empd":0.23e-6},{"wufi":0.375e-6,"empd":0.28e-6},{"wufi":0.375e-6,"empd":0.34e-6},
      {"wufi":0.4e-6,"empd":0.19e-6},{"wufi":0.4e-6,"empd":0.25e-6},{"wufi":0.4e-6,"empd":0.3e-6},{"wufi":0.4e-6,"empd":0.36e-6},
      {"wufi":0.425e-6,"empd":0.21e-6},{"wufi":0.425e-6,"empd":0.27e-6},{"wufi":0.425e-6,"empd":0.33e-6},{"wufi":0.425e-6,"empd":0.39e-6},
      {"wufi":0.45e-6,"empd":0.22e-6},{"wufi":0.45e-6,"empd":0.28e-6},{"wufi":0.45e-6,"empd":0.35e-6},{"wufi":0.45e-6,"empd":0.41e-6},
      {"wufi":0.475e-6,"empd":0.24e-6},{"wufi":0.475e-6,"empd":0.3e-6},{"wufi":0.475e-6,"empd":0.38e-6},{"wufi":0.475e-6,"empd":0.44e-6},
      {"wufi":0.5e-6,"empd":0.25e-6},{"wufi":0.5e-6,"empd":0.32e-6},{"wufi":0.5e-6,"empd":0.4e-6},{"wufi":0.5e-6,"empd":0.47e-6},
      {"wufi":0.525e-6,"empd":0.26e-6},{"wufi":0.525e-6,"empd":0.34e-6},{"wufi":0.525e-6,"empd":0.42e-6},{"wufi":0.525e-6,"empd":0.5e-6},
      {"wufi":0.55e-6,"empd":0.27e-6},{"wufi":0.55e-6,"empd":0.36e-6},{"wufi":0.55e-6,"empd":0.44e-6},{"wufi":0.55e-6,"empd":0.53e-6},
      {"wufi":0.575e-6,"empd":0.29e-6},{"wufi":0.575e-6,"empd":0.38e-6},{"wufi":0.575e-6,"empd":0.47e-6},{"wufi":0.575e-6,"empd":0.56e-6},
      {"wufi":0.6e-6,"empd":0.31e-6},{"wufi":0.6e-6,"empd":0.4e-6},{"wufi":0.6e-6,"empd":0.5e-6},{"wufi":0.6e-6,"empd":0.59e-6},
      {"wufi":0.625e-6,"empd":0.34e-6},{"wufi":0.625e-6,"empd":0.43e-6},{"wufi":0.625e-6,"empd":0.53e-6},{"wufi":0.625e-6,"empd":0.62e-6},
      {"wufi":0.65e-6,"empd":0.37e-6},{"wufi":0.65e-6,"empd":0.46e-6},{"wufi":0.65e-6,"empd":0.56e-6},{"wufi":0.65e-6,"empd":0.65e-6},
      {"wufi":0.675e-6,"empd":0.41e-6},{"wufi":0.675e-6,"empd":0.5e-6},{"wufi":0.675e-6,"empd":0.59e-6},{"wufi":0.675e-6,"empd":0.68e-6},
      {"wufi":0.7e-6,"empd":0.45e-6},{"wufi":0.7e-6,"empd":0.53e-6},{"wufi":0.7e-6,"empd":0.62e-6},{"wufi":0.7e-6,"empd":0.7e-6},
      {"wufi":0.75e-6,"empd":0.33e-6},{"wufi":0.74e-6,"empd":0.41e-6},{"wufi":0.78e-6,"empd":0.29e-6},{"wufi":0.82e-6,"empd":0.37e-6},
      {"wufi":0.9e-6,"empd":0.49e-6},{"wufi":0.9e-6,"empd":0.29e-6},{"wufi":0.99e-6,"empd":0.53e-6},{"wufi":1.01e-6,"empd":0.53e-6},
      {"wufi":1e-6,"empd":0.6e-6},{"wufi":0.94e-6,"empd":0.78e-6},{"wufi":0.94e-6,"empd":0.96e-6},{"wufi":0.87e-6,"empd":0.82e-6},
      {"wufi":0.81e-6,"empd":0.88e-6},{"wufi":0.72e-6,"empd":0.8e-6},{"wufi":0.77e-6,"empd":0.76e-6},{"wufi":1.01e-6,"empd":1.05e-6},
      {"wufi":1.09e-6,"empd":1.03e-6},{"wufi":1.13e-6,"empd":1.05e-6},{"wufi":1.19e-6,"empd":1.07e-6},{"wufi":1.25e-6,"empd":1e-6},
      {"wufi":1.29e-6,"empd":1.21e-6},{"wufi":0.51e-6,"empd":0.29e-6},{"wufi":0.57e-6,"empd":0.22e-6},{"wufi":0.63e-6,"empd":0.25e-6},
      {"wufi":0.47e-6,"empd":0.2e-6},{"wufi":0.54e-6,"empd":0.26e-6}
    ],
    "epiceaFdb": [
      {"wufi":-4.37e-6,"empd":-4.15e-6},{"wufi":-3.66e-6,"empd":-3.66e-6},{"wufi":-3.29e-6,"empd":-2.99e-6},{"wufi":-3.25e-6,"empd":-3.09e-6},
      {"wufi":-3.05e-6,"empd":-3.04e-6},{"wufi":-2.86e-6,"empd":-2.55e-6},{"wufi":-2.81e-6,"empd":-2.67e-6},{"wufi":-2.61e-6,"empd":-2.25e-6},
      {"wufi":-2.56e-6,"empd":-2.35e-6},{"wufi":-2.35e-6,"empd":-1.94e-6},{"wufi":-2.25e-6,"empd":-2.06e-6},{"wufi":-2.18e-6,"empd":-1.9e-6},
      {"wufi":-2.12e-6,"empd":-1.75e-6},
      {"wufi":-2e-6,"empd":-1.9e-6},{"wufi":-2e-6,"empd":-1.78e-6},{"wufi":-2e-6,"empd":-1.7e-6},{"wufi":-2e-6,"empd":-1.58e-6},
      {"wufi":-1.875e-6,"empd":-1.8e-6},{"wufi":-1.875e-6,"empd":-1.68e-6},{"wufi":-1.875e-6,"empd":-1.59e-6},{"wufi":-1.875e-6,"empd":-1.47e-6},
      {"wufi":-1.75e-6,"empd":-1.7e-6},{"wufi":-1.75e-6,"empd":-1.58e-6},{"wufi":-1.75e-6,"empd":-1.49e-6},{"wufi":-1.75e-6,"empd":-1.37e-6},
      {"wufi":-1.625e-6,"empd":-1.6e-6},{"wufi":-1.625e-6,"empd":-1.48e-6},{"wufi":-1.625e-6,"empd":-1.38e-6},{"wufi":-1.625e-6,"empd":-1.26e-6},
      {"wufi":-1.5e-6,"empd":-1.52e-6},{"wufi":-1.5e-6,"empd":-1.4e-6},{"wufi":-1.5e-6,"empd":-1.32e-6},{"wufi":-1.5e-6,"empd":-1.25e-6},{"wufi":-1.5e-6,"empd":-1.13e-6},
      {"wufi":-1.375e-6,"empd":-1.4e-6},{"wufi":-1.375e-6,"empd":-1.28e-6},{"wufi":-1.375e-6,"empd":-1.2e-6},{"wufi":-1.375e-6,"empd":-1.13e-6},{"wufi":-1.375e-6,"empd":-1.01e-6},
      {"wufi":-1.25e-6,"empd":-1.28e-6},{"wufi":-1.25e-6,"empd":-1.16e-6},{"wufi":-1.25e-6,"empd":-1.09e-6},{"wufi":-1.25e-6,"empd":-1.02e-6},{"wufi":-1.25e-6,"empd":-0.9e-6},
      {"wufi":-1.125e-6,"empd":-1.17e-6},{"wufi":-1.125e-6,"empd":-1.05e-6},{"wufi":-1.125e-6,"empd":-0.97e-6},{"wufi":-1.125e-6,"empd":-0.89e-6},{"wufi":-1.125e-6,"empd":-0.77e-6},
      {"wufi":-1e-6,"empd":-1.05e-6},{"wufi":-1e-6,"empd":-0.93e-6},{"wufi":-1e-6,"empd":-0.85e-6},{"wufi":-1e-6,"empd":-0.77e-6},{"wufi":-1e-6,"empd":-0.65e-6},
      {"wufi":-0.875e-6,"empd":-0.96e-6},{"wufi":-0.875e-6,"empd":-0.84e-6},{"wufi":-0.875e-6,"empd":-0.75e-6},{"wufi":-0.875e-6,"empd":-0.66e-6},{"wufi":-0.875e-6,"empd":-0.54e-6},
      {"wufi":-0.75e-6,"empd":-0.86e-6},{"wufi":-0.75e-6,"empd":-0.74e-6},{"wufi":-0.75e-6,"empd":-0.64e-6},{"wufi":-0.75e-6,"empd":-0.54e-6},{"wufi":-0.75e-6,"empd":-0.42e-6},
      {"wufi":-0.625e-6,"empd":-0.76e-6},{"wufi":-0.625e-6,"empd":-0.64e-6},{"wufi":-0.625e-6,"empd":-0.53e-6},{"wufi":-0.625e-6,"empd":-0.42e-6},{"wufi":-0.625e-6,"empd":-0.3e-6},
      {"wufi":-0.5e-6,"empd":-0.67e-6},{"wufi":-0.5e-6,"empd":-0.55e-6},{"wufi":-0.5e-6,"empd":-0.47e-6},{"wufi":-0.5e-6,"empd":-0.38e-6},{"wufi":-0.5e-6,"empd":-0.3e-6},{"wufi":-0.5e-6,"empd":-0.18e-6},
      {"wufi":-0.375e-6,"empd":-0.6e-6},{"wufi":-0.375e-6,"empd":-0.48e-6},{"wufi":-0.375e-6,"empd":-0.38e-6},{"wufi":-0.375e-6,"empd":-0.28e-6},{"wufi":-0.375e-6,"empd":-0.18e-6},{"wufi":-0.375e-6,"empd":-0.06e-6},
      {"wufi":-0.25e-6,"empd":-0.52e-6},{"wufi":-0.25e-6,"empd":-0.4e-6},{"wufi":-0.25e-6,"empd":-0.29e-6},{"wufi":-0.25e-6,"empd":-0.17e-6},{"wufi":-0.25e-6,"empd":-0.06e-6},{"wufi":-0.25e-6,"empd":0.06e-6},
      {"wufi":-0.125e-6,"empd":-0.45e-6},{"wufi":-0.125e-6,"empd":-0.33e-6},{"wufi":-0.125e-6,"empd":-0.2e-6},{"wufi":-0.125e-6,"empd":-0.07e-6},{"wufi":-0.125e-6,"empd":0.06e-6},{"wufi":-0.125e-6,"empd":0.18e-6},
      {"wufi":0,"empd":-0.37e-6},{"wufi":0,"empd":-0.25e-6},{"wufi":0,"empd":-0.11e-6},{"wufi":0,"empd":0.04e-6},{"wufi":0,"empd":0.18e-6},{"wufi":0,"empd":0.3e-6},
      {"wufi":0.125e-6,"empd":-0.26e-6},{"wufi":0.125e-6,"empd":-0.14e-6},{"wufi":0.125e-6,"empd":0},{"wufi":0.125e-6,"empd":0.13e-6},{"wufi":0.125e-6,"empd":0.27e-6},{"wufi":0.125e-6,"empd":0.39e-6},
      {"wufi":0.25e-6,"empd":-0.16e-6},{"wufi":0.25e-6,"empd":-0.04e-6},{"wufi":0.25e-6,"empd":0.09e-6},{"wufi":0.25e-6,"empd":0.23e-6},{"wufi":0.25e-6,"empd":0.36e-6},{"wufi":0.25e-6,"empd":0.48e-6},
      {"wufi":0.375e-6,"empd":-0.05e-6},{"wufi":0.375e-6,"empd":0.07e-6},{"wufi":0.375e-6,"empd":0.2e-6},{"wufi":0.375e-6,"empd":0.32e-6},{"wufi":0.375e-6,"empd":0.45e-6},{"wufi":0.375e-6,"empd":0.57e-6},
      {"wufi":0.5e-6,"empd":0.06e-6},{"wufi":0.5e-6,"empd":0.18e-6},{"wufi":0.5e-6,"empd":0.3e-6},{"wufi":0.5e-6,"empd":0.42e-6},{"wufi":0.5e-6,"empd":0.54e-6},{"wufi":0.5e-6,"empd":0.66e-6},
      {"wufi":0.625e-6,"empd":0.16e-6},{"wufi":0.625e-6,"empd":0.28e-6},{"wufi":0.625e-6,"empd":0.41e-6},{"wufi":0.625e-6,"empd":0.53e-6},{"wufi":0.625e-6,"empd":0.66e-6},{"wufi":0.625e-6,"empd":0.78e-6},
      {"wufi":0.75e-6,"empd":0.25e-6},{"wufi":0.75e-6,"empd":0.37e-6},{"wufi":0.75e-6,"empd":0.51e-6},{"wufi":0.75e-6,"empd":0.64e-6},{"wufi":0.75e-6,"empd":0.78e-6},{"wufi":0.75e-6,"empd":0.9e-6},
      {"wufi":0.875e-6,"empd":0.35e-6},{"wufi":0.875e-6,"empd":0.47e-6},{"wufi":0.875e-6,"empd":0.61e-6},{"wufi":0.875e-6,"empd":0.76e-6},{"wufi":0.875e-6,"empd":0.9e-6},{"wufi":0.875e-6,"empd":1.02e-6},
      {"wufi":1e-6,"empd":0.44e-6},{"wufi":1e-6,"empd":0.56e-6},{"wufi":1e-6,"empd":0.71e-6},{"wufi":1e-6,"empd":0.87e-6},{"wufi":1e-6,"empd":1.02e-6},{"wufi":1e-6,"empd":1.14e-6},
      {"wufi":1.125e-6,"empd":0.6e-6},{"wufi":1.125e-6,"empd":0.72e-6},{"wufi":1.125e-6,"empd":0.86e-6},{"wufi":1.125e-6,"empd":1.01e-6},{"wufi":1.125e-6,"empd":1.15e-6},{"wufi":1.125e-6,"empd":1.27e-6},
      {"wufi":1.25e-6,"empd":0.76e-6},{"wufi":1.25e-6,"empd":0.88e-6},{"wufi":1.25e-6,"empd":1.01e-6},{"wufi":1.25e-6,"empd":1.15e-6},{"wufi":1.25e-6,"empd":1.28e-6},{"wufi":1.25e-6,"empd":1.4e-6},
      {"wufi":1.375e-6,"empd":0.92e-6},{"wufi":1.375e-6,"empd":1.04e-6},{"wufi":1.375e-6,"empd":1.16e-6},{"wufi":1.375e-6,"empd":1.28e-6},{"wufi":1.375e-6,"empd":1.4e-6},{"wufi":1.375e-6,"empd":1.52e-6},
      {"wufi":1.5e-6,"empd":1.08e-6},{"wufi":1.5e-6,"empd":1.2e-6},{"wufi":1.5e-6,"empd":1.31e-6},{"wufi":1.5e-6,"empd":1.42e-6},{"wufi":1.5e-6,"empd":1.53e-6},{"wufi":1.5e-6,"empd":1.65e-6},
      {"wufi":1.625e-6,"empd":1.23e-6},{"wufi":1.625e-6,"empd":1.35e-6},{"wufi":1.625e-6,"empd":1.46e-6},{"wufi":1.625e-6,"empd":1.57e-6},{"wufi":1.625e-6,"empd":1.68e-6},{"wufi":1.625e-6,"empd":1.8e-6},
      {"wufi":1.75e-6,"empd":1.37e-6},{"wufi":1.75e-6,"empd":1.49e-6},{"wufi":1.75e-6,"empd":1.61e-6},{"wufi":1.75e-6,"empd":1.72e-6},{"wufi":1.75e-6,"empd":1.84e-6},{"wufi":1.75e-6,"empd":1.96e-6},
      {"wufi":1.875e-6,"empd":1.52e-6},{"wufi":1.875e-6,"empd":1.64e-6},{"wufi":1.875e-6,"empd":1.76e-6},{"wufi":1.875e-6,"empd":1.88e-6},{"wufi":1.875e-6,"empd":2e-6},{"wufi":1.875e-6,"empd":2.12e-6},
      {"wufi":2e-6,"empd":1.66e-6},{"wufi":2e-6,"empd":1.78e-6},{"wufi":2e-6,"empd":1.9e-6},{"wufi":2e-6,"empd":2.03e-6},{"wufi":2e-6,"empd":2.15e-6},{"wufi":2e-6,"empd":2.27e-6},
      {"wufi":2.125e-6,"empd":1.83e-6},{"wufi":2.125e-6,"empd":1.95e-6},{"wufi":2.125e-6,"empd":2.13e-6},{"wufi":2.125e-6,"empd":2.3e-6},{"wufi":2.125e-6,"empd":2.42e-6},
      {"wufi":2.25e-6,"empd":1.98e-6},{"wufi":2.25e-6,"empd":2.1e-6},{"wufi":2.25e-6,"empd":2.26e-6},{"wufi":2.25e-6,"empd":2.42e-6},{"wufi":2.25e-6,"empd":2.54e-6},
      {"wufi":-0.06e-6,"empd":-0.7e-6},{"wufi":-0.02e-6,"empd":-0.62e-6},{"wufi":2.35e-6,"empd":1.69e-6},{"wufi":2.08e-6,"empd":2.62e-6},
      {"wufi":2.33e-6,"empd":2.75e-6},{"wufi":2.4e-6,"empd":2.55e-6},{"wufi":2.59e-6,"empd":2.67e-6},{"wufi":2.69e-6,"empd":2.67e-6},
      {"wufi":2.79e-6,"empd":2.87e-6},{"wufi":2.89e-6,"empd":2.75e-6},{"wufi":3.12e-6,"empd":3.36e-6},{"wufi":4.93e-6,"empd":4.03e-6},
      {"wufi":2.2e-6,"empd":2.5e-6},{"wufi":2.28e-6,"empd":2.35e-6}
    ]
  },
  "concat": [
    {
      "title": "Platre LV",
      "width": 456,
      "height": 162,
      "layer": [
        {
          "data": {"name": "platreLV"},
          "mark": {"type": "point", "filled": true, "opacity": 1, "size": 1764, "strokeWidth": 0},
          "encoding": {
            "x": {"field": "wufi", "type": "quantitative", "scale": {"domain": [-2e-6, 2e-6], "nice": false, "zero": false},
                  "axis": {"title": "Flux vap Wufi (kg/s)", "values": [-2e-6, -1.5e-6, -1e-6, -5e-7, 0, 5e-7, 1e-6, 1.5e-6, 2e-6], "labelOverlap": false,
                           "labelExpr": "replace(replace(replace(replace(replace(format(datum.value, '.1e'), '\u2212', '-'), '.', ','), 'e-6', 'E-06'), 'e-7', 'E-07'), 'e+0', 'E+00')"}},
            "y": {"field": "empd", "type": "quantitative", "scale": {"domain": [-2e-6, 2e-6], "nice": false, "zero": false},
                  "axis": {"title": "flux vap EMPD (kg/s)", "values": [-2e-6, -1e-6, 0, 1e-6, 2e-6], "labelOverlap": false,
                           "labelExpr": "replace(replace(replace(replace(replace(format(datum.value, '.1e'), '\u2212', '-'), '.', ','), 'e-6', 'E-06'), 'e-7', 'E-07'), 'e+0', 'E+00')"}},
            "color": {"datum": "Platre LV", "type": "nominal",
                      "scale": {"domain": ["Platre LV", "Linéaire (Platre LV)"], "range": ["#4472C4", "#CE4B45"]},
                      "legend": {"title": null, "orient": "none", "direction": "horizontal", "legendX": 54, "legendY": 226}},
            "shape": {"datum": "Platre LV", "type": "nominal",
                      "scale": {"domain": ["Platre LV", "Linéaire (Platre LV)"],
                                "range": ["M-0.14,0A0.14,0.14,0,1,0,0.14,0A0.14,0.14,0,1,0,-0.14,0Z",
                                          "M-1,-0.05h0.1v0.1h-0.1ZM-0.81,-0.05h0.1v0.1h-0.1ZM-0.62,-0.05h0.1v0.1h-0.1ZM-0.43,-0.05h0.1v0.1h-0.1ZM-0.24,-0.05h0.1v0.1h-0.1ZM-0.05,-0.05h0.1v0.1h-0.1ZM0.14,-0.05h0.1v0.1h-0.1ZM0.33,-0.05h0.1v0.1h-0.1ZM0.52,-0.05h0.1v0.1h-0.1ZM0.71,-0.05h0.1v0.1h-0.1ZM0.9,-0.05h0.1v0.1h-0.1Z"]},
                      "legend": {"title": null, "orient": "none", "direction": "horizontal", "legendX": 54, "legendY": 226}}
          }
        },
        {
          "data": {"values": [{"wufi": -2e-6, "empd": -2e-6}, {"wufi": 2e-6, "empd": 2e-6}]},
          "mark": {"type": "line", "color": "#4472C4", "strokeWidth": 1.5},
          "encoding": {"x": {"field": "wufi", "type": "quantitative"}, "y": {"field": "empd", "type": "quantitative"}}
        },
        {
          "data": {"values": [{"wufi": -2e-6, "empd": -1.73e-6}, {"wufi": 2e-6, "empd": 1.73e-6}]},
          "mark": {"type": "line", "color": "#CE4B45", "strokeWidth": 2, "strokeDash": [2, 2]},
          "encoding": {"x": {"field": "wufi", "type": "quantitative"}, "y": {"field": "empd", "type": "quantitative"}}
        }
      ]
    },
    {
      "title": "Epicea LV",
      "width": 456,
      "height": 162,
      "layer": [
        {
          "data": {"name": "epiceaLV"},
          "mark": {"type": "point", "filled": true, "opacity": 1, "size": 1764, "strokeWidth": 0},
          "encoding": {
            "x": {"field": "wufi", "type": "quantitative", "scale": {"domain": [-6e-6, 6e-6], "nice": false, "zero": false},
                  "axis": {"title": "Flux vap Wufi (kg/s)", "values": [-6e-6, -4e-6, -2e-6, 0, 2e-6, 4e-6, 6e-6], "labelOverlap": false,
                           "labelExpr": "replace(replace(replace(replace(replace(format(datum.value, '.1e'), '\u2212', '-'), '.', ','), 'e-6', 'E-06'), 'e-7', 'E-07'), 'e+0', 'E+00')"}},
            "y": {"field": "empd", "type": "quantitative", "scale": {"domain": [-6e-6, 6e-6], "nice": false, "zero": false},
                  "axis": {"title": "flux vap EMPD (kg/s)", "values": [-6e-6, -4e-6, -2e-6, 0, 2e-6, 4e-6, 6e-6], "labelOverlap": false, "tickCount": 7,
                           "labelExpr": "replace(replace(replace(replace(replace(format(datum.value, '.1e'), '\u2212', '-'), '.', ','), 'e-6', 'E-06'), 'e-7', 'E-07'), 'e+0', 'E+00')"}},
            "color": {"datum": "Epicea LV", "type": "nominal",
                      "scale": {"domain": ["Epicea LV", "Linéaire (Epicea LV)"], "range": ["#4472C4", "#CE4B45"]},
                      "legend": {"title": null, "orient": "none", "direction": "horizontal", "legendX": 54, "legendY": 226}},
            "shape": {"datum": "Epicea LV", "type": "nominal",
                      "scale": {"domain": ["Epicea LV", "Linéaire (Epicea LV)"],
                                "range": ["M-0.14,0A0.14,0.14,0,1,0,0.14,0A0.14,0.14,0,1,0,-0.14,0Z",
                                          "M-1,-0.05h0.1v0.1h-0.1ZM-0.81,-0.05h0.1v0.1h-0.1ZM-0.62,-0.05h0.1v0.1h-0.1ZM-0.43,-0.05h0.1v0.1h-0.1ZM-0.24,-0.05h0.1v0.1h-0.1ZM-0.05,-0.05h0.1v0.1h-0.1ZM0.14,-0.05h0.1v0.1h-0.1ZM0.33,-0.05h0.1v0.1h-0.1ZM0.52,-0.05h0.1v0.1h-0.1ZM0.71,-0.05h0.1v0.1h-0.1ZM0.9,-0.05h0.1v0.1h-0.1Z"]},
                      "legend": {"title": null, "orient": "none", "direction": "horizontal", "legendX": 54, "legendY": 226}}
          }
        },
        {
          "data": {"values": [{"wufi": -6e-6, "empd": -6e-6}, {"wufi": 6e-6, "empd": 6e-6}]},
          "mark": {"type": "line", "color": "#4472C4", "strokeWidth": 1.5},
          "encoding": {"x": {"field": "wufi", "type": "quantitative"}, "y": {"field": "empd", "type": "quantitative"}}
        },
        {
          "data": {"values": [{"wufi": -6e-6, "empd": -5.45e-6}, {"wufi": 5e-6, "empd": 4.63e-6}]},
          "mark": {"type": "line", "color": "#CE4B45", "strokeWidth": 2, "strokeDash": [2, 2]},
          "encoding": {"x": {"field": "wufi", "type": "quantitative"}, "y": {"field": "empd", "type": "quantitative"}}
        }
      ]
    },
    {
      "title": "Platre FdB",
      "width": 456,
      "height": 162,
      "layer": [
        {
          "data": {"name": "platreFdB"},
          "mark": {"type": "point", "filled": true, "opacity": 1, "size": 1764, "strokeWidth": 0},
          "encoding": {
            "x": {"field": "wufi", "type": "quantitative", "scale": {"domain": [-2e-6, 2e-6], "nice": false, "zero": false},
                  "axis": {"title": "Flux vap Wufi (kg/s)", "values": [-2e-6, -1.5e-6, -1e-6, -5e-7, 0, 5e-7, 1e-6, 1.5e-6, 2e-6], "labelOverlap": false,
                           "labelExpr": "replace(replace(replace(replace(replace(format(datum.value, '.1e'), '\u2212', '-'), '.', ','), 'e-6', 'E-06'), 'e-7', 'E-07'), 'e+0', 'E+00')"}},
            "y": {"field": "empd", "type": "quantitative", "scale": {"domain": [-2e-6, 2e-6], "nice": false, "zero": false},
                  "axis": {"title": "flux vap EMPD (kg/s)", "values": [-2e-6, -1e-6, 0, 1e-6, 2e-6], "labelOverlap": false,
                           "labelExpr": "replace(replace(replace(replace(replace(format(datum.value, '.1e'), '\u2212', '-'), '.', ','), 'e-6', 'E-06'), 'e-7', 'E-07'), 'e+0', 'E+00')"}},
            "color": {"datum": "Platre FdB", "type": "nominal",
                      "scale": {"domain": ["Platre FdB", "Linéaire (Platre FdB)"], "range": ["#4472C4", "#CE4B45"]},
                      "legend": {"title": null, "orient": "none", "direction": "horizontal", "legendX": 52, "legendY": 226}},
            "shape": {"datum": "Platre FdB", "type": "nominal",
                      "scale": {"domain": ["Platre FdB", "Linéaire (Platre FdB)"],
                                "range": ["M-0.14,0A0.14,0.14,0,1,0,0.14,0A0.14,0.14,0,1,0,-0.14,0Z",
                                          "M-1,-0.05h0.1v0.1h-0.1ZM-0.81,-0.05h0.1v0.1h-0.1ZM-0.62,-0.05h0.1v0.1h-0.1ZM-0.43,-0.05h0.1v0.1h-0.1ZM-0.24,-0.05h0.1v0.1h-0.1ZM-0.05,-0.05h0.1v0.1h-0.1ZM0.14,-0.05h0.1v0.1h-0.1ZM0.33,-0.05h0.1v0.1h-0.1ZM0.52,-0.05h0.1v0.1h-0.1ZM0.71,-0.05h0.1v0.1h-0.1ZM0.9,-0.05h0.1v0.1h-0.1Z"]},
                      "legend": {"title": null, "orient": "none", "direction": "horizontal", "legendX": 52, "legendY": 226}}
          }
        },
        {
          "data": {"values": [{"wufi": -2e-6, "empd": -2e-6}, {"wufi": 2e-6, "empd": 1.98e-6}]},
          "mark": {"type": "line", "color": "#4472C4", "strokeWidth": 1.5},
          "encoding": {"x": {"field": "wufi", "type": "quantitative"}, "y": {"field": "empd", "type": "quantitative"}}
        },
        {
          "data": {"values": [{"wufi": -2e-6, "empd": -1.76e-6}, {"wufi": 2e-6, "empd": 1.78e-6}]},
          "mark": {"type": "line", "color": "#CE4B45", "strokeWidth": 2, "strokeDash": [2, 2]},
          "encoding": {"x": {"field": "wufi", "type": "quantitative"}, "y": {"field": "empd", "type": "quantitative"}}
        }
      ]
    },
    {
      "title": "Epicea Fdb",
      "width": 456,
      "height": 162,
      "layer": [
        {
          "data": {"name": "epiceaFdb"},
          "mark": {"type": "point", "filled": true, "opacity": 1, "size": 1764, "strokeWidth": 0},
          "encoding": {
            "x": {"field": "wufi", "type": "quantitative", "scale": {"domain": [-6e-6, 6e-6], "nice": false, "zero": false},
                  "axis": {"title": "Flux vap Wufi (kg/s)", "values": [-6e-6, -4e-6, -2e-6, 0, 2e-6, 4e-6, 6e-6], "labelOverlap": false,
                           "labelExpr": "replace(replace(replace(replace(replace(format(datum.value, '.1e'), '\u2212', '-'), '.', ','), 'e-6', 'E-06'), 'e-7', 'E-07'), 'e+0', 'E+00')"}},
            "y": {"field": "empd", "type": "quantitative", "scale": {"domain": [-6e-6, 6e-6], "nice": false, "zero": false},
                  "axis": {"title": "flux vap EMPD (kg/s)", "values": [-6e-6, -4e-6, -2e-6, 0, 2e-6, 4e-6, 6e-6], "labelOverlap": false, "tickCount": 7,
                           "labelExpr": "replace(replace(replace(replace(replace(format(datum.value, '.1e'), '\u2212', '-'), '.', ','), 'e-6', 'E-06'), 'e-7', 'E-07'), 'e+0', 'E+00')"}},
            "color": {"datum": "Epicea Fdb", "type": "nominal",
                      "scale": {"domain": ["Epicea Fdb", "Linéaire (Epicea Fdb)"], "range": ["#4472C4", "#CE4B45"]},
                      "legend": {"title": null, "orient": "none", "direction": "horizontal", "legendX": 50, "legendY": 226}},
            "shape": {"datum": "Epicea Fdb", "type": "nominal",
                      "scale": {"domain": ["Epicea Fdb", "Linéaire (Epicea Fdb)"],
                                "range": ["M-0.14,0A0.14,0.14,0,1,0,0.14,0A0.14,0.14,0,1,0,-0.14,0Z",
                                          "M-1,-0.05h0.1v0.1h-0.1ZM-0.81,-0.05h0.1v0.1h-0.1ZM-0.62,-0.05h0.1v0.1h-0.1ZM-0.43,-0.05h0.1v0.1h-0.1ZM-0.24,-0.05h0.1v0.1h-0.1ZM-0.05,-0.05h0.1v0.1h-0.1ZM0.14,-0.05h0.1v0.1h-0.1ZM0.33,-0.05h0.1v0.1h-0.1ZM0.52,-0.05h0.1v0.1h-0.1ZM0.71,-0.05h0.1v0.1h-0.1ZM0.9,-0.05h0.1v0.1h-0.1Z"]},
                      "legend": {"title": null, "orient": "none", "direction": "horizontal", "legendX": 50, "legendY": 226}}
          }
        },
        {
          "data": {"values": [{"wufi": -6e-6, "empd": -6e-6}, {"wufi": 6e-6, "empd": 6e-6}]},
          "mark": {"type": "line", "color": "#4472C4", "strokeWidth": 1.5},
          "encoding": {"x": {"field": "wufi", "type": "quantitative"}, "y": {"field": "empd", "type": "quantitative"}}
        },
        {
          "data": {"values": [{"wufi": -6e-6, "empd": -5.43e-6}, {"wufi": 4.88e-6, "empd": 4.4e-6}]},
          "mark": {"type": "line", "color": "#CE4B45", "strokeWidth": 2, "strokeDash": [2, 2]},
          "encoding": {"x": {"field": "wufi", "type": "quantitative"}, "y": {"field": "empd", "type": "quantitative"}}
        }
      ]
    }
  ],
  "config": {
    "font": "Lato",
    "view": {"stroke": null},
    "axis": {
      "grid": true, "gridColor": "#D9D9D9", "gridWidth": 1, "domain": false, "ticks": false, "tickSize": 0,
      "labelFont": "Lato", "labelFontSize": 13.3, "labelColor": "#595959", "labelOverlap": false, "labelFlush": false, "labelBound": false,
      "titleFont": "Lato", "titleFontSize": 15.5, "titleFontWeight": "normal", "titleColor": "#595959"
    },
    "axisX": {"labelPadding": 9, "titlePadding": 12},
    "axisY": {"labelPadding": 13, "titlePadding": 6},
    "title": {"font": "Lato", "fontSize": 21, "fontWeight": "normal", "color": "#595959", "offset": 16, "anchor": "middle", "frame": "bounds"},
    "legend": {
      "labelFont": "Lato", "labelFontSize": 13.5, "labelColor": "#595959", "symbolSize": 1764, "symbolStrokeWidth": 0,
      "labelOffset": 6, "columnPadding": 23, "padding": 0
    }
  }
}
